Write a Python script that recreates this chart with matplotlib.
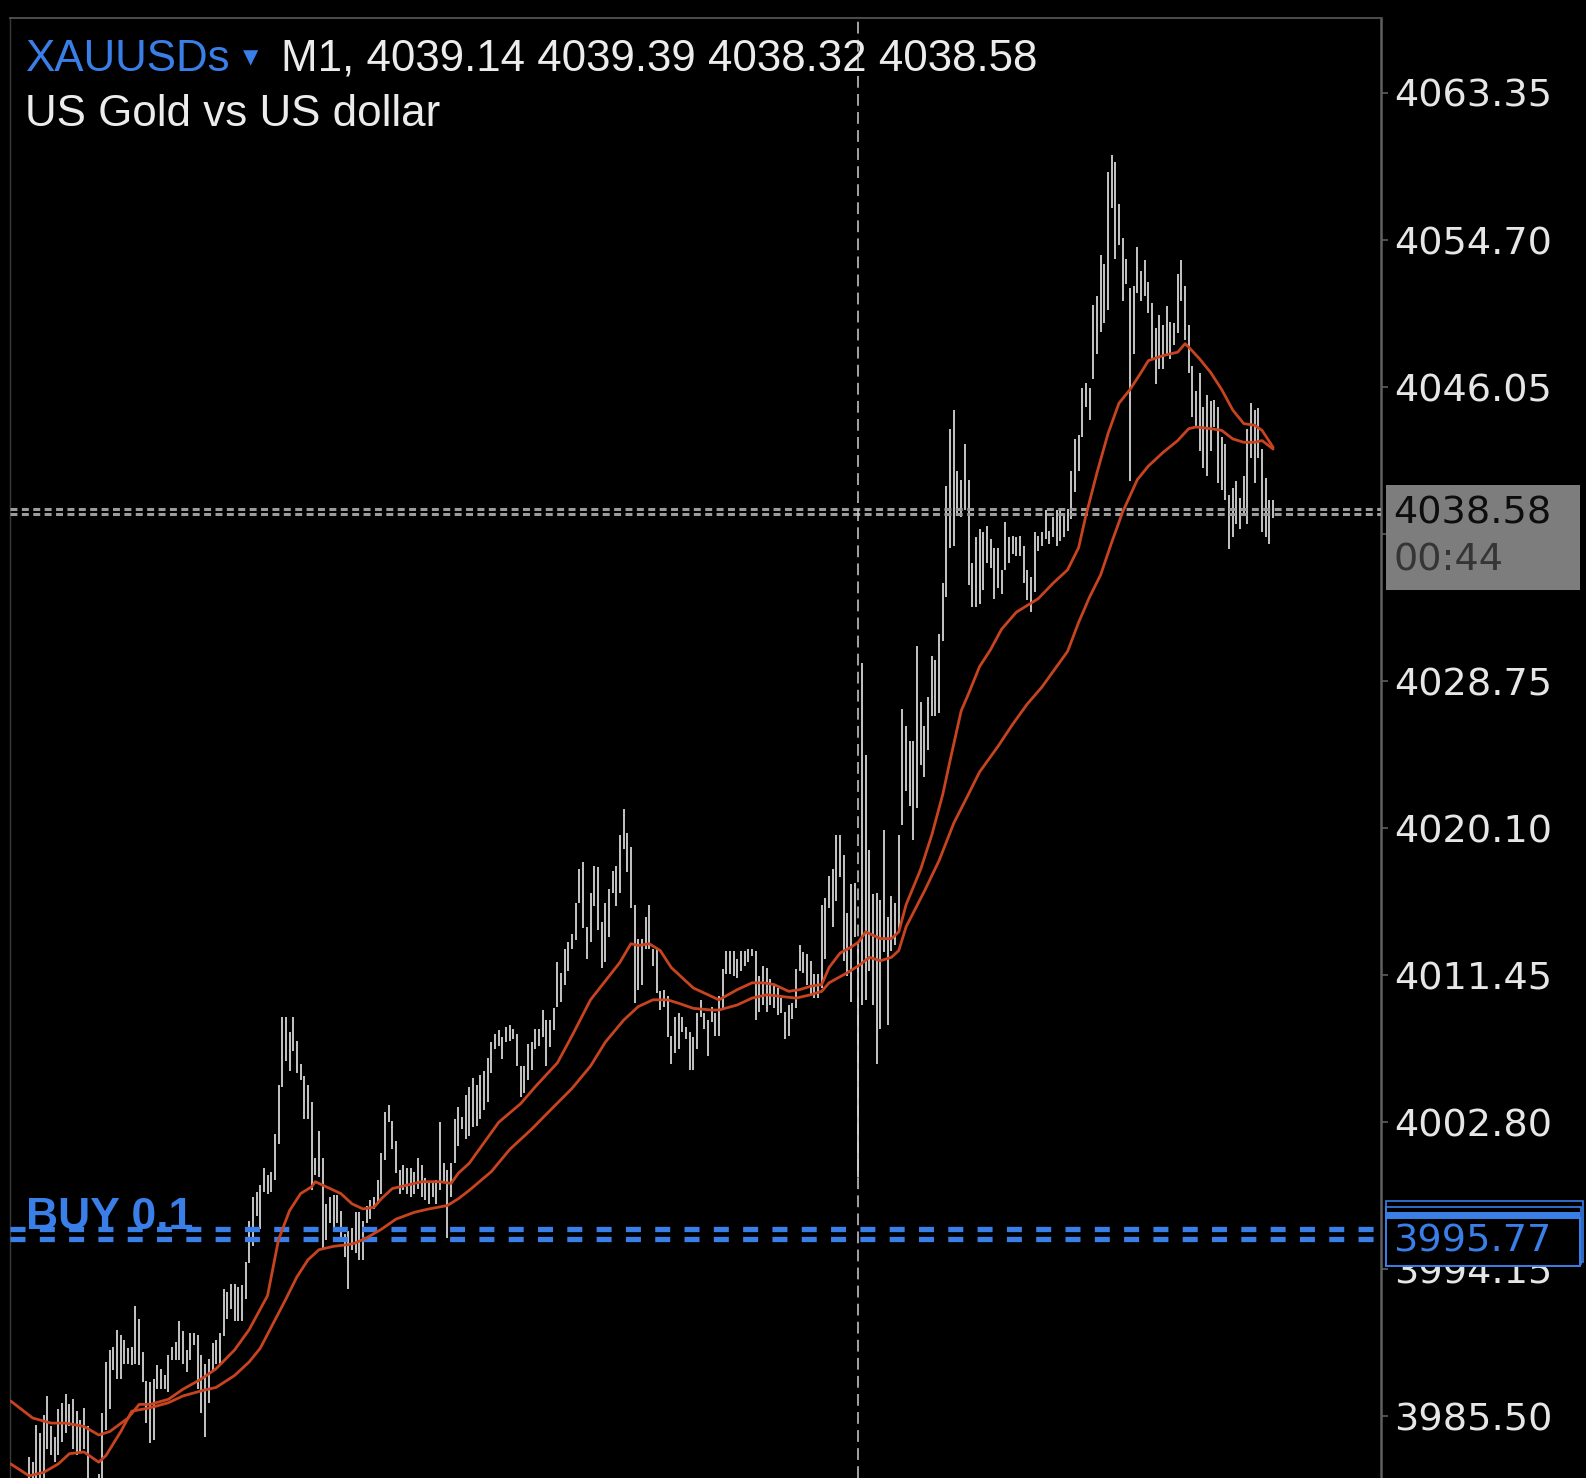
import matplotlib
matplotlib.use("Agg")
import matplotlib.pyplot as plt
from matplotlib import font_manager
from matplotlib.patches import Rectangle

# M1 bars, oldest to newest (high / low)
bar_high = [
    3983.1, 3982.8, 3985.0, 3984.5, 3985.6, 3986.7, 3984.9, 3984.3, 3985.9, 3986.3,
    3986.8, 3986.2, 3986.5, 3985.8, 3985.3, 3986.0, 3984.9, 3981.7, 3981.6, 3982.1,
    3985.7, 3988.7, 3989.4, 3989.6, 3990.6, 3990.3, 3990.0, 3989.5, 3989.6, 3992.0,
    3991.2, 3989.3, 3987.6, 3987.5, 3987.7, 3988.5, 3988.3, 3987.9, 3989.1, 3989.6,
    3989.9, 3991.1, 3990.5, 3989.4, 3990.4, 3990.4, 3990.3, 3989.1, 3988.6, 3988.9,
    3989.8, 3990.0, 3990.4, 3993.0, 3992.8, 3993.3, 3993.3, 3993.1, 3993.2, 3994.6,
    3997.0, 3998.4, 3998.7, 3999.1, 4000.1, 3999.7, 3999.9, 4002.1, 4005.0, 4009.0,
    4009.0, 4008.1, 4009.0, 4007.6, 4006.2, 4005.5, 4005.0, 4004.0, 4000.7, 4002.3,
    4000.7, 3998.0, 3998.4, 3998.5, 3998.5, 3997.6, 3996.2, 3996.4, 3996.6, 3997.5,
    3997.5, 3997.0, 3997.9, 3998.2, 3998.4, 3999.4, 4001.0, 4003.4, 4003.8, 4002.9,
    4001.7, 4000.0, 4000.3, 4000.1, 4000.1, 3999.9, 4000.7, 4000.3, 3999.5, 3999.2,
    3999.2, 3999.4, 4002.8, 4000.4, 4000.0, 4000.4, 4003.0, 4003.7, 4003.1, 4004.4,
    4004.9, 4005.4, 4005.0, 4005.6, 4005.8, 4006.6, 4007.5, 4008.0, 4008.2, 4007.8,
    4008.4, 4008.5, 4008.3, 4008.0, 4006.1, 4006.1, 4007.4, 4007.5, 4008.3, 4008.3,
    4009.4, 4008.8, 4008.8, 4009.5, 4012.2, 4011.6, 4013.0, 4013.4, 4013.9, 4015.7,
    4017.7, 4018.1, 4014.3, 4016.3, 4017.9, 4017.8, 4014.6, 4015.7, 4016.5, 4017.6,
    4017.9, 4019.7, 4021.2, 4019.8, 4019.0, 4015.6, 4013.6, 4013.6, 4014.9, 4015.6,
    4013.0, 4013.0, 4010.5, 4010.6, 4010.2, 4007.9, 4009.0, 4009.2, 4009.0, 4008.4,
    4008.1, 4007.8, 4009.2, 4010.0, 4009.2, 4008.8, 4009.6, 4009.2, 4010.2, 4011.8,
    4012.9, 4012.9, 4012.9, 4012.4, 4012.9, 4012.9, 4013.0, 4013.0, 4012.9, 4011.4,
    4012.0, 4011.9, 4011.2, 4010.8, 4010.7, 4010.1, 4009.3, 4009.7, 4009.8, 4011.8,
    4013.2, 4012.8, 4012.7, 4012.3, 4011.5, 4011.5, 4015.6, 4016.0, 4017.3, 4017.7,
    4019.7, 4019.7, 4018.5, 4015.1, 4016.8, 4016.9, 4013.0, 4029.8, 4024.4, 4018.8,
    4016.2, 4016.3, 4015.9, 4020.0, 4014.9, 4016.1, 4015.7, 4019.7, 4027.1, 4026.1,
    4025.2, 4025.2, 4030.8, 4027.5, 4026.1, 4027.8, 4030.2, 4030.0, 4031.5, 4034.5,
    4040.2, 4043.6, 4044.7, 4041.1, 4040.6, 4042.7, 4040.6, 4035.7, 4037.2, 4037.7,
    4037.5, 4037.9, 4037.1, 4036.6, 4036.6, 4035.3, 4038.1, 4037.2, 4037.3, 4037.2,
    4037.3, 4036.7, 4035.3, 4034.9, 4037.5, 4037.3, 4037.5, 4038.8, 4037.6, 4038.4,
    4038.8, 4038.8, 4038.5, 4038.9, 4041.1, 4043.0, 4043.2, 4046.0, 4046.3, 4046.0,
    4050.9, 4051.4, 4053.8, 4053.3, 4058.7, 4059.7, 4059.3, 4056.8, 4054.8, 4053.6,
    4051.9, 4052.0, 4054.3, 4052.9, 4053.5, 4052.2, 4051.0, 4049.5, 4050.3, 4049.7,
    4050.8, 4049.9, 4049.8, 4052.7, 4053.5, 4052.0, 4049.7, 4047.3, 4045.8, 4046.9,
    4044.9, 4045.6, 4045.2, 4045.3, 4044.9, 4043.1, 4042.7, 4039.7, 4040.1, 4040.5,
    4039.5, 4040.8, 4043.6, 4045.1, 4044.7, 4044.8, 4042.4, 4040.7, 4039.4, 4039.39,
]
bar_low = [
    3981.0, 3981.0, 3981.0, 3981.0, 3981.0, 3983.6, 3983.2, 3982.8, 3983.2, 3984.0,
    3984.5, 3984.9, 3983.6, 3983.2, 3983.4, 3983.6, 3981.0, 3980.6, 3980.5, 3981.0,
    3981.0, 3984.7, 3985.9, 3988.2, 3987.7, 3987.7, 3988.6, 3988.6, 3988.5, 3988.6,
    3988.5, 3987.5, 3985.1, 3983.9, 3984.1, 3987.1, 3987.1, 3987.1, 3986.9, 3988.8,
    3988.8, 3988.8, 3988.6, 3988.1, 3988.8, 3989.7, 3987.1, 3985.7, 3984.3, 3986.3,
    3988.1, 3988.6, 3988.6, 3990.2, 3991.2, 3991.8, 3991.1, 3991.1, 3991.1, 3992.4,
    3994.5, 3995.5, 3997.3, 3996.5, 3998.7, 3998.6, 3998.7, 3999.4, 4001.5, 4004.9,
    4006.4, 4005.8, 4007.0, 4005.7, 4005.3, 4003.0, 4003.0, 3998.8, 3999.7, 3999.6,
    3995.4, 3995.9, 3996.9, 3996.5, 3996.9, 3996.0, 3994.9, 3993.0, 3995.3, 3995.1,
    3994.7, 3994.7, 3996.9, 3997.1, 3997.7, 3998.0, 3998.6, 4000.6, 4002.8, 4001.2,
    3999.8, 3998.6, 3998.8, 3998.6, 3998.4, 3998.6, 3998.9, 3998.4, 3998.2, 3998.0,
    3998.4, 3998.0, 3998.8, 3999.2, 3996.0, 3998.4, 4000.4, 4001.4, 4002.4, 4001.8,
    4002.0, 4002.5, 4002.6, 4003.0, 4003.5, 4004.0, 4005.7, 4007.1, 4007.3, 4006.5,
    4007.5, 4007.6, 4007.7, 4006.1, 4004.3, 4004.5, 4005.3, 4005.9, 4007.1, 4007.3,
    4007.8, 4006.1, 4007.2, 4008.2, 4009.6, 4009.9, 4010.9, 4011.7, 4013.0, 4013.5,
    4015.7, 4014.2, 4012.4, 4013.4, 4015.5, 4014.1, 4011.9, 4012.2, 4013.7, 4016.3,
    4015.5, 4016.3, 4018.9, 4017.5, 4015.4, 4009.8, 4010.6, 4010.9, 4013.0, 4013.0,
    4012.0, 4010.4, 4009.4, 4009.6, 4007.8, 4006.2, 4006.9, 4007.1, 4008.1, 4007.7,
    4005.9, 4005.9, 4007.1, 4009.0, 4008.3, 4006.7, 4008.7, 4007.9, 4007.9, 4009.5,
    4011.5, 4011.5, 4011.4, 4011.3, 4011.7, 4012.0, 4012.2, 4012.6, 4008.8, 4009.3,
    4009.7, 4009.3, 4009.7, 4009.5, 4009.1, 4009.2, 4007.7, 4007.9, 4008.9, 4009.5,
    4011.7, 4011.6, 4010.9, 4010.3, 4010.1, 4010.1, 4010.7, 4012.4, 4015.4, 4014.3,
    4015.8, 4017.2, 4012.3, 4011.4, 4009.9, 4013.7, 3999.6, 4009.7, 4010.0, 4011.7,
    4009.7, 4006.2, 4008.3, 4012.8, 4008.5, 4012.9, 4013.2, 4014.0, 4020.3, 4022.3,
    4021.4, 4019.4, 4021.3, 4023.8, 4023.1, 4024.7, 4026.7, 4026.7, 4026.9, 4031.1,
    4033.7, 4036.6, 4036.7, 4038.6, 4038.4, 4038.8, 4034.4, 4033.1, 4033.1, 4033.3,
    4034.1, 4035.7, 4035.4, 4033.6, 4034.2, 4033.9, 4035.3, 4035.7, 4036.2, 4036.1,
    4036.1, 4034.5, 4033.5, 4032.8, 4034.0, 4036.4, 4036.7, 4037.1, 4036.8, 4037.2,
    4036.7, 4037.0, 4037.2, 4037.6, 4038.3, 4039.9, 4041.1, 4043.1, 4044.9, 4044.1,
    4046.5, 4048.0, 4049.3, 4049.8, 4050.6, 4056.6, 4053.6, 4054.4, 4051.1, 4052.1,
    4040.5, 4048.0, 4051.6, 4051.1, 4051.4, 4050.4, 4047.7, 4046.2, 4047.1, 4047.1,
    4047.9, 4047.7, 4048.5, 4049.2, 4051.1, 4048.8, 4046.9, 4044.3, 4043.7, 4042.3,
    4041.3, 4040.8, 4042.3, 4043.7, 4040.4, 4040.0, 4039.4, 4036.5, 4037.2, 4038.0,
    4037.7, 4038.6, 4038.0, 4041.9, 4040.4, 4041.9, 4037.5, 4037.2, 4036.8, 4038.32,
]

# moving averages, sampled at bar numbers (negative = bars left of the window)
ma_fast_idx = [-5, 1, 6, 10, 15, 19, 22, 27, 30, 33, 38, 42, 47, 51, 56, 60, 63, 65, 68, 71,
               74, 77, 78, 81, 85, 88, 91, 94, 96, 99, 103, 107, 112, 115, 117, 120, 123, 128, 134, 138,
               144, 148, 153, 157, 161, 164, 166, 169, 172, 175, 181, 186, 188, 193, 197, 200, 203, 207, 210, 213,
               216, 218, 221, 224, 226, 228, 230, 232, 235, 237, 239, 243, 246, 249, 251, 254, 256, 259, 262, 265,
               269, 272, 275, 279, 283, 286, 288, 291, 294, 297, 300, 303, 305, 309, 313, 315, 316, 319, 322, 325,
               328, 331, 334, 336, 339]
ma_fast_val = [3986.4, 3985.4, 3985.1, 3985.1, 3984.9, 3984.4, 3984.6, 3985.4, 3986.2, 3986.2,
               3986.5, 3987.1, 3987.7, 3988.3, 3989.4, 3990.6, 3991.8, 3992.6, 3995.9, 3997.6,
               3998.6, 3999.0, 3999.3, 3999.0, 3998.6, 3998.0, 3997.7, 3997.8, 3998.3, 3998.9,
               3999.1, 3999.3, 3999.3, 3999.2, 3999.8, 4000.4, 4001.3, 4002.8, 4003.9, 4004.9,
               4006.3, 4007.9, 4010.0, 4011.1, 4012.2, 4013.3, 4013.2, 4013.3, 4012.9, 4011.9,
               4010.7, 4010.2, 4010.0, 4010.6, 4011.0, 4011.0, 4010.9, 4010.5, 4010.6, 4010.8,
               4010.9, 4011.9, 4012.75, 4013.1, 4013.4, 4014.0, 4013.8, 4013.6, 4013.6, 4014.0,
               4015.6, 4017.7, 4019.7, 4022.1, 4024.1, 4027.0, 4028.0, 4029.6, 4030.6, 4031.8,
               4032.8, 4033.2, 4033.6, 4034.5, 4035.3, 4036.6, 4038.5, 4041.0, 4043.3, 4045.1,
               4045.9, 4046.9, 4047.6, 4047.9, 4048.1, 4048.6, 4048.4, 4047.7, 4046.9, 4045.9,
               4044.7, 4043.9, 4043.8, 4043.5, 4042.5]
ma_slow_idx = [-5, 0, 4, 8, 11, 15, 19, 21, 25, 28, 33, 38, 42, 47, 51, 56, 60, 63, 70, 73,
               76, 79, 83, 87, 89, 92, 96, 100, 105, 109, 114, 117, 120, 126, 131, 137, 142, 148, 153, 157,
               162, 166, 170, 174, 177, 181, 186, 188, 193, 197, 201, 205, 209, 213, 216, 218, 223, 226, 229, 232,
               235, 237, 239, 244, 248, 252, 256, 259, 264, 268, 272, 276, 279, 283, 286, 289, 292, 295, 298, 302,
               305, 309, 313, 316, 318, 322, 325, 328, 331, 334, 336, 339]
ma_slow_val = [3982.7, 3982.0, 3982.2, 3982.7, 3983.3, 3983.4, 3982.8, 3983.2, 3984.6, 3985.8,
               3986.0, 3986.3, 3986.7, 3987.0, 3987.2, 3987.9, 3988.7, 3989.5, 3992.4, 3993.7,
               3994.7, 3995.3, 3995.5, 3995.6, 3995.7, 3996.0, 3996.5, 3997.1, 3997.5, 3997.7,
               3997.9, 3998.3, 3998.8, 3999.9, 4001.2, 4002.4, 4003.5, 4004.8, 4006.1, 4007.5,
               4008.8, 4009.6, 4010.0, 4010.0, 4009.8, 4009.5, 4009.4, 4009.4, 4009.7, 4010.1,
               4010.3, 4010.2, 4010.1, 4010.3, 4010.5, 4011.0, 4011.6, 4012.0, 4012.5, 4012.3,
               4012.5, 4012.9, 4014.3, 4016.4, 4018.2, 4020.4, 4022.1, 4023.4, 4024.9, 4026.2,
               4027.4, 4028.4, 4029.3, 4030.5, 4032.2, 4033.7, 4035.0, 4036.9, 4038.7, 4040.6,
               4041.4, 4042.2, 4042.9, 4043.6, 4043.7, 4043.6, 4043.5, 4043.0, 4042.8, 4042.8,
               4042.9, 4042.4]

price_ticks = [3985.50, 3994.15, 4002.80, 4011.45, 4020.10, 4028.75, 4037.40, 4046.05, 4054.70, 4063.35]
hidden_tick = 4037.40                # sits under the current-price box
last_ohlc = [4039.14, 4039.39, 4038.32, 4038.58]
bid_rows = [4038.88, 4038.58]        # the dotted current-price line is drawn doubled
order_rows = [3996.51, 3995.92]      # BUY order line, also doubled
order_price = 3995.77
order_label = "BUY 0.1"
symbol = "XAUUSDs"
timeframe = "M1"
description = "US Gold vs US dollar"
countdown = "00:44"
crosshair_bar = 226

W, H = 1586, 1478
BG = "#000000"
BAR_C = "#d4d4d4"
MA_C = "#c8431f"
BLUE = "#3a7fe8"

plt.rcParams["lines.scale_dashes"] = False
names = {f.name for f in font_manager.fontManager.ttflist}
buy_family = "Liberation Sans Narrow" if "Liberation Sans Narrow" in names else "Liberation Sans"
buy_size = 38 if buy_family == "Liberation Sans Narrow" else 32


def fx(x):
    return x / W


def fy(y):
    return 1 - y / H


def box(x0, y0, x1, y1, **kw):
    r = Rectangle((fx(x0), fy(y1)), (x1 - x0) / W, (y1 - y0) / H,
                  transform=fig.transFigure, **kw)
    fig.add_artist(r)
    return r


fig = plt.figure(figsize=(W / 100, H / 100), dpi=100, facecolor=BG)
ax = fig.add_axes([fx(10), 0, (1381 - 10) / W, 1 - 18 / H], facecolor=BG)

bars = list(range(len(bar_high)))
ax.vlines(bars, bar_low, bar_high, color=BAR_C, lw=1.3, zorder=2)
ax.plot(ma_fast_idx, ma_fast_val, color=MA_C, lw=2.0, zorder=4,
        solid_capstyle="round", solid_joinstyle="round")
ax.plot(ma_slow_idx, ma_slow_val, color=MA_C, lw=2.0, zorder=4,
        solid_capstyle="round", solid_joinstyle="round")

for lvl in order_rows:
    ax.axhline(lvl, color=BLUE, lw=3.8, dashes=(10.8, 10.3), zorder=3)
for lvl in bid_rows:
    ax.axhline(lvl, color="#9c9c9c", lw=2.2, dashes=(5.0, 3.2), zorder=3)
ax.axvline(crosshair_bar, color="#cfcfcf", lw=1.1, dashes=(8.5, 4.5), zorder=3)

ax.set_xlim(-5.18, 368.4)
ax.set_ylim(3981.87, 4067.76)

ax.set_xticks([])
ax.yaxis.tick_right()
ax.set_yticks(price_ticks)
ax.set_yticklabels(["" if v == hidden_tick else f"{v:.2f}" for v in price_ticks])
ax.tick_params(axis="y", length=5, width=1.1, color="#666666", pad=4.3,
               labelsize=27.5, labelcolor="#e6e6e6")
for lbl in ax.get_yticklabels():
    lbl.set_fontfamily("DejaVu Sans")

ax.spines["bottom"].set_visible(False)
ax.spines["top"].set_color("#4d4d4d")
ax.spines["top"].set_linewidth(1.4)
ax.spines["left"].set_color("#3a3a3a")
ax.spines["left"].set_linewidth(1.0)
ax.spines["right"].set_color("#5f5f5f")
ax.spines["right"].set_linewidth(1.8)

# header
fig.text(fx(25), fy(71), symbol, color=BLUE, fontsize=31.6, family="Liberation Sans", va="baseline")
fig.text(fx(243), fy(58), "\u25be", color=BLUE, fontsize=22, family="DejaVu Sans", va="center")
fig.text(fx(281), fy(71), f"{timeframe}, " + " ".join(f"{v:.2f}" for v in last_ohlc),
         color="#ececec", fontsize=31.6, family="Liberation Sans", va="baseline")
fig.text(fx(25), fy(125.5), description, color="#ececec", fontsize=31.6,
         family="Liberation Sans", va="baseline")

# order label
fig.text(fx(26), fy(1229), order_label, color=BLUE, fontsize=buy_size, fontweight="bold",
         family=buy_family, va="baseline", zorder=6)

# current price box
box(1386, 485, 1580, 590, facecolor="#7d7d7d", edgecolor="none", zorder=5)
fig.text(fx(1393), fy(514), f"{last_ohlc[3]:.2f}", color="#0d0d0d", fontsize=27.5,
         family="DejaVu Sans", va="center", zorder=6)
fig.text(fx(1393), fy(561), countdown, color="#353535", fontsize=27.5,
         family="DejaVu Sans", va="center", zorder=6)

# stacked order price boxes
box(1386, 1201, 1583, 1262, facecolor="none", edgecolor=BLUE, lw=1.2, zorder=5)
box(1386, 1207, 1581, 1264, facecolor="none", edgecolor=BLUE, lw=1.2, zorder=5)
box(1386, 1212, 1580, 1218, facecolor=BLUE, edgecolor="none", zorder=5)
box(1386, 1218, 1580, 1266, facecolor=BG, edgecolor=BLUE, lw=1.4, zorder=5)
fig.text(fx(1393), fy(1242), f"{order_price:.2f}", color=BLUE, fontsize=27.5,
         family="DejaVu Sans", va="center", zorder=6)

fig.savefig("out.png", dpi=100, facecolor=BG)
